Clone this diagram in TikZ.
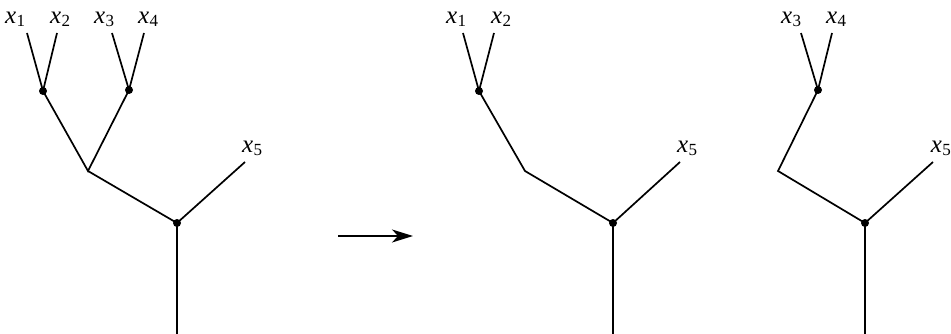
\documentclass[tikz,border=0pt]{standalone}
\usepackage{fontspec}
\setmainfont{Liberation Serif}
\usetikzlibrary{arrows.meta}
\newcommand{\xlbl}[1]{{\fontspec{Liberation Serif Italic}x}\kern0.3pt\raisebox{-3pt}{\fontsize{17}{17}\selectfont #1}}
\begin{document}
\begin{tikzpicture}[x=1pt,y=-1pt,
  edge/.style={line width=1.7pt},
  dot/.style={circle,fill,inner sep=0pt,minimum size=8pt},
  leaf/.style={font=\fontsize{25}{28}\selectfont, anchor=base west, inner sep=0pt}]
\useasboundingbox (0,0) rectangle (951,334);
% ---------- left tree ----------
\coordinate (L1) at (27,33);
\coordinate (L2) at (57,33);
\coordinate (L3) at (112,33);
\coordinate (L4) at (144,33);
\node[dot] (La) at (43,91) {};
\node[dot] (Lb) at (129,90) {};
\coordinate (Lc) at (88,171);
\node[dot] (Lr) at (177,223) {};
\coordinate (L5) at (245,162);
\coordinate (Lbot) at (177,334);
\draw[edge] (L1) -- (La.center) -- (L2);
\draw[edge] (L3) -- (Lb.center) -- (L4);
\draw[edge] (La.center) -- (Lc) -- (Lb.center);
\draw[edge] (Lc) -- (Lr.center) -- (L5);
\draw[edge] (Lr.center) -- (Lbot);
\node[leaf] (tL1) at (5,24) {\xlbl{1}};
\node[leaf] (tL2) at (50,24) {\xlbl{2}};
\node[leaf] (tL3) at (94,24) {\xlbl{3}};
\node[leaf] (tL4) at (138,24) {\xlbl{4}};
\node[leaf] (tL5) at (242,153) {\xlbl{5}};
% ---------- arrow ----------
\coordinate (A1) at (338,236);
\coordinate (A2) at (413,236);
\draw[line width=1.7pt,-{Stealth[length=21pt,width=13pt,inset=6pt]}] (A1) -- (A2);
% ---------- middle tree ----------
\coordinate (M1) at (463,33);
\coordinate (M2) at (494,33);
\node[dot] (Ma) at (479,91) {};
\coordinate (Mc) at (525,171);
\node[dot] (Mr) at (613,223) {};
\coordinate (M5) at (680,162);
\coordinate (Mbot) at (613,334);
\draw[edge] (M1) -- (Ma.center) -- (M2);
\draw[edge] (Ma.center) -- (Mc) -- (Mr.center) -- (M5);
\draw[edge] (Mr.center) -- (Mbot);
\node[leaf] (tM1) at (446,24) {\xlbl{1}};
\node[leaf] (tM2) at (491,24) {\xlbl{2}};
\node[leaf] (tM5) at (677,153) {\xlbl{5}};
% ---------- right tree ----------
\coordinate (R3) at (801,33);
\coordinate (R4) at (832,33);
\node[dot] (Rb) at (818,90) {};
\coordinate (Rc) at (778,171);
\node[dot] (Rr) at (865,223) {};
\coordinate (R5) at (933,162);
\coordinate (Rbot) at (865,334);
\draw[edge] (R3) -- (Rb.center) -- (R4);
\draw[edge] (Rb.center) -- (Rc) -- (Rr.center) -- (R5);
\draw[edge] (Rr.center) -- (Rbot);
\node[leaf] (tR3) at (781,24) {\xlbl{3}};
\node[leaf] (tR4) at (826,24) {\xlbl{4}};
\node[leaf,anchor=base east] (tR5) at (951,153) {\xlbl{5}};
\end{tikzpicture}
\end{document}
